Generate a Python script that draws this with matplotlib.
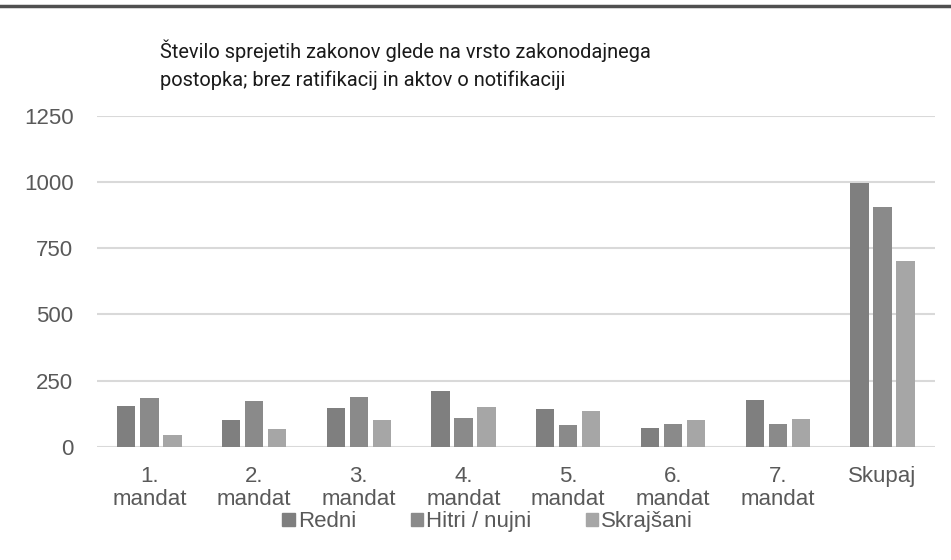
import numpy as np
import matplotlib.pyplot as plt
from matplotlib.lines import Line2D

categories = ["1.\nmandat", "2.\nmandat", "3.\nmandat", "4.\nmandat",
              "5.\nmandat", "6.\nmandat", "7.\nmandat", "Skupaj"]
redni = [153, 102, 148, 210, 143, 72, 178, 998]
hitri = [183, 173, 190, 109, 83, 86, 88, 907]
skrajsani = [43, 68, 100, 152, 134, 100, 106, 702]
series_names = ["Redni", "Hitri / nujni", "Skrajšani"]
colors = ["#7f7f7f", "#8a8a8a", "#a6a6a6"]

plt.rcParams['font.family'] = ['Liberation Sans', 'DejaVu Sans']

fig = plt.figure(figsize=(9.51, 5.6), dpi=100)
ax = fig.add_axes([0.102, 0.202, 0.881, 0.591])

x = np.arange(len(categories))
w = 0.175
off = 0.22
for i, (vals, c) in enumerate(zip([redni, hitri, skrajsani], colors)):
    ax.bar(x + (i - 1) * off, vals, w, color=c, zorder=3)

ax.set_ylim(0, 1250)
ax.set_xlim(-0.5, len(categories) - 0.5)
ax.set_yticks([0, 250, 500, 750, 1000, 1250])
ax.grid(axis="y", color="#d9d9d9", linewidth=1.5, zorder=0)
for s in ["top", "right", "left", "bottom"]:
    ax.spines[s].set_visible(False)
ax.tick_params(length=0, labelsize=16, labelcolor="#595959")
ax.set_xticks(x)
ax.set_xticklabels(categories, fontsize=16, color="#595959", linespacing=1.1)
ax.tick_params(axis="x", pad=14)
ax.tick_params(axis="y", pad=17)

fig.text(0.168, 0.84, "Število sprejetih zakonov glede na vrsto zakonodajnega\n"
         "postopka; brez ratifikacij in aktov o notifikaciji",
         fontsize=14.4, family="Roboto", color="#1a1a1a", linespacing=1.5,
         va="bottom", ha="left")

fig.add_artist(Line2D([0, 1], [0.99, 0.99], color="#505050", linewidth=2.5,
                      transform=fig.transFigure))

handles = [plt.Rectangle((0, 0), 1, 1, color=c) for c in colors]
fig.legend(handles, series_names, loc="center", bbox_to_anchor=(0.513, 0.068),
           ncol=3, frameon=False, fontsize=16, handlelength=0.55,
           handleheight=0.55, handletextpad=0.15, columnspacing=2.45,
           labelcolor="#595959")

fig.savefig("out.png", dpi=100)
